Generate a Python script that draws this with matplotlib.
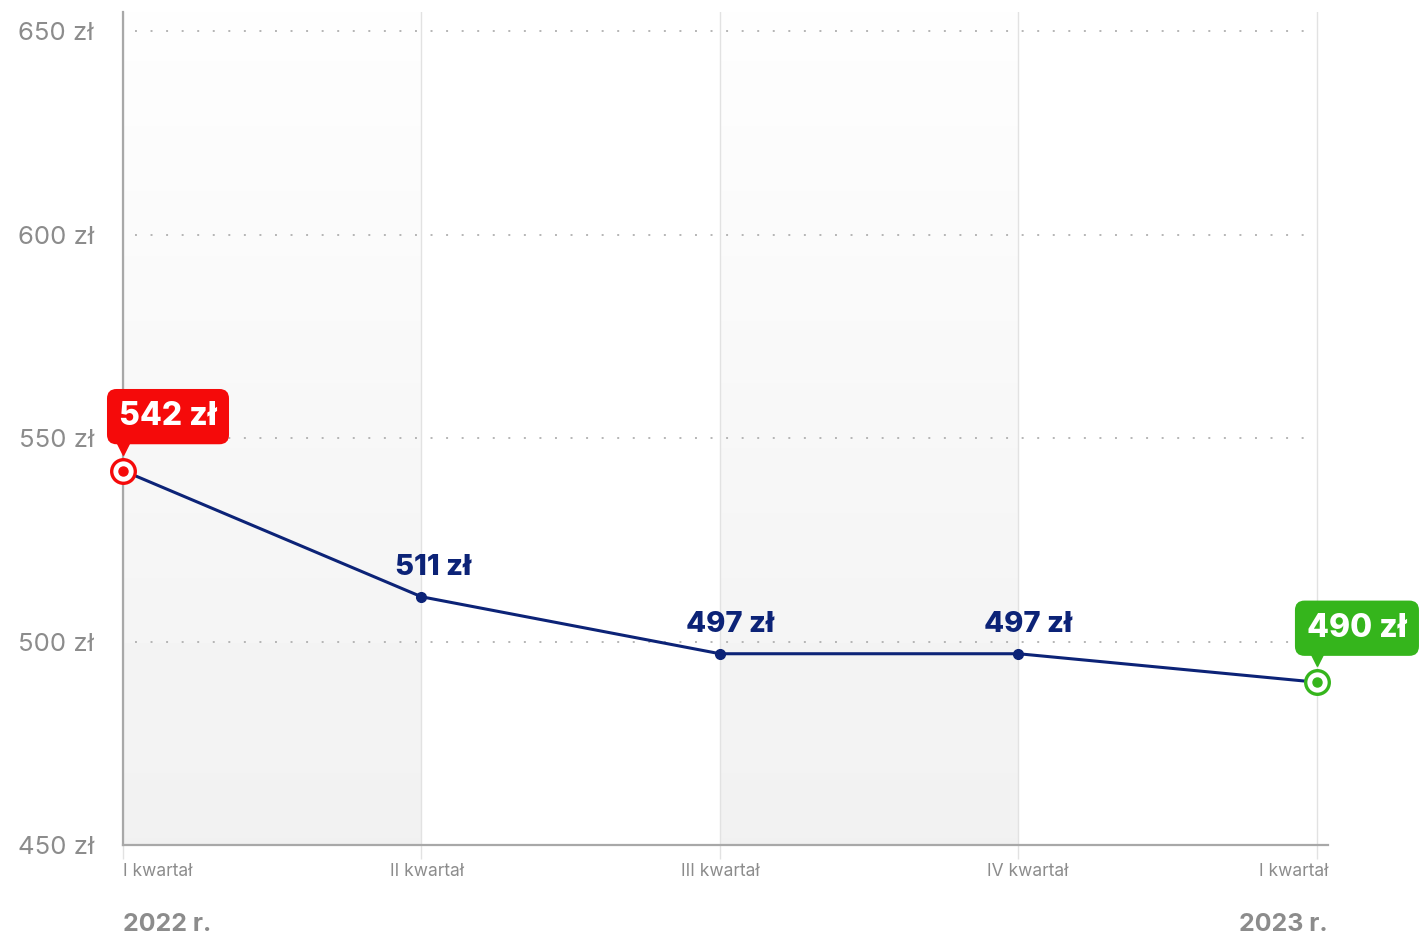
import matplotlib.pyplot as plt
import matplotlib.transforms as mtransforms
import numpy as np

plt.rcParams['font.family'] = ['Inter', 'DejaVu Sans']

quarters = ["I kwartał", "II kwartał", "III kwartał", "IV kwartał", "I kwartał"]
prices = [542, 511, 497, 497, 490]
years = ["2022 r.", "2023 r."]
y_ticks = [450, 500, 550, 600, 650]

navy = "#0c2377"
red = "#f50a0a"
green = "#35b51c"
gray = "#8c8c8c"

fig = plt.figure(figsize=(14.21, 9.36), dpi=100)
ax = fig.add_axes([123 / 1421, 1 - 845 / 936, (1328 - 123) / 1421, (845 - 12) / 936])

x = np.arange(len(prices))
ax.set_xlim(0, 4.037)
ax.set_ylim(450, 654.7)

# szare pasy z gradientem
grad = np.linspace(0.945, 0.995, 256).reshape(-1, 1)
for i in [0, 2]:
    ax.imshow(grad, cmap="gray", vmin=0, vmax=1, aspect="auto", origin="lower",
              extent=[x[i], x[i + 1], 450, 654.7], zorder=0)

# linie siatki
for xi in x:
    ax.axvline(xi, color="#e2e2e2", lw=1, zorder=1)
for yt in y_ticks[1:]:
    ax.plot([0.04, 4], [yt, yt], color="#b5b5b5", lw=1.4, ls=(0, (1, 7)), zorder=1)

ax.plot(x, prices, color=navy, lw=2.2, zorder=3)
ax.plot(x[1:4], prices[1:4], "o", color=navy, ms=7, zorder=4)

# pierwszy i ostatni punkt
for xi, val, col in [(x[0], prices[0], red), (x[-1], prices[-1], green)]:
    ax.plot(xi, val, "o", ms=17, mfc="white", mec=col, mew=2.4, zorder=5, clip_on=False)
    ax.plot(xi, val, "o", ms=6.5, color=col, zorder=6, clip_on=False)

# etykiety wartości
offs = [0, 12, 10, 10, 0]
for i in range(1, 4):
    ax.annotate(f"{prices[i]} zł", (x[i], prices[i]), xytext=(offs[i], 16),
                textcoords="offset pixels", ha="center", va="bottom",
                fontsize=21, fontweight="heavy", color=navy, zorder=7)

for i, col, dx in [(0, red, 45), (4, green, 40)]:
    ax.annotate(f"{prices[i]} zł", (x[i], prices[i]), xytext=(dx, 54),
                textcoords="offset pixels", ha="center", va="center",
                fontsize=23, fontweight="heavy", color="white", zorder=8,
                annotation_clip=False,
                bbox=dict(boxstyle="round,pad=0.38,rounding_size=0.3", fc=col, ec="none"))
    tr = mtransforms.offset_copy(ax.transData, fig=fig, x=0, y=22, units="dots")
    ax.plot(x[i], prices[i], "v", ms=8, color=col, transform=tr, zorder=8, clip_on=False)

# osie
for s in ["top", "right"]:
    ax.spines[s].set_visible(False)
ax.spines["left"].set_color("#a8a8a8")
ax.spines["bottom"].set_color("#a8a8a8")
ax.spines["left"].set_linewidth(1.6)
ax.spines["bottom"].set_linewidth(1.6)

ax.set_yticks(y_ticks)
ax.set_yticklabels([f"{v} zł" for v in y_ticks], fontsize=18.5, color=gray)
ax.tick_params(axis="y", length=0, pad=21)
ax.set_xticks(x)
ax.set_xticklabels([])
ax.tick_params(axis="x", length=10, color="#e2e2e2", width=1)

has = ["left", "center", "center", "center", "right"]
xpos = [0, 1.02, 2.0, 3.03, 4.037]
for xp, lab, h in zip(xpos, quarters, has):
    ax.text(xp, -0.022, lab, transform=ax.get_xaxis_transform(), ha=h, va="top",
            fontsize=12.5, color=gray)
ax.text(0, -0.082, years[0], transform=ax.get_xaxis_transform(), ha="left", va="top",
        fontsize=18, fontweight="bold", color=gray)
ax.text(4.037, -0.082, years[1], transform=ax.get_xaxis_transform(), ha="right", va="top",
        fontsize=18, fontweight="bold", color=gray)

fig.savefig("out.png", dpi=100, facecolor="white")
